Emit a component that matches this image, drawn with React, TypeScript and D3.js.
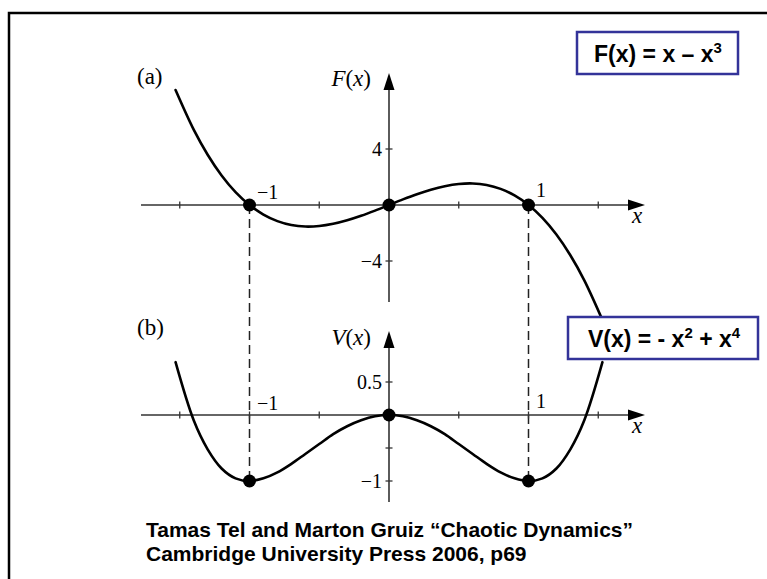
import React from "react";
import * as d3 from "d3";

// Sampled curve values along x
const xs = [-1.53, -1.4, -1.3, -1.2, -1.1, -1.0, -0.9, -0.8, -0.7, -0.6, -0.5, -0.4, -0.3, -0.2, -0.1, 0,
  0.1, 0.2, 0.3, 0.4, 0.5, 0.6, 0.7, 0.8, 0.9, 1.0, 1.1, 1.2, 1.3, 1.4, 1.53];
const forceVals = [8.21, 5.38, 3.59, 2.11, 0.92, 0, -0.68, -1.15, -1.43, -1.54, -1.5, -1.34, -1.09, -0.77, -0.4, 0,
  0.4, 0.77, 1.09, 1.34, 1.5, 1.54, 1.43, 1.15, 0.68, 0, -0.92, -2.11, -3.59, -5.38, -8.21];
const potentialVals = [0.8, -0.08, -0.52, -0.81, -0.96, -1, -0.96, -0.87, -0.74, -0.59, -0.44, -0.29, -0.17, -0.08, -0.02, 0,
  -0.02, -0.08, -0.17, -0.29, -0.44, -0.59, -0.74, -0.87, -0.96, -1, -0.96, -0.81, -0.52, -0.08, 0.8];

// Fixed points marked on each panel
const forcePoints = [[-1, 0], [0, 0], [1, 0]];
const potentialPoints = [[-1, -1], [0, 0], [1, -1]];

// Axis ticks
const xTicks = [-1.5, -1, -0.5, 0.5, 1, 1.5];
const forceTicks = [4, -4];
const forceTickLabels = ["4", "\u22124"];
const potentialTicks = [0.5, -0.5, -1];
const potentialTickLabels = ["0.5", "", "\u22121"];

const W = 767;
const H = 579;
const SERIF = "'Liberation Serif', 'DejaVu Serif', serif";
const SANS = "'Liberation Sans', Arial, sans-serif";
const AXIS = "#333";

const x = d3.scaleLinear().domain([0, 1]).range([389, 528.5]);
const yF = d3.scaleLinear().domain([0, 4]).range([205, 149]);
const yV = d3.scaleLinear().domain([0, -1]).range([415, 481]);

function Arrow({ tx, ty, dir }: { tx: number; ty: number; dir: "right" | "up" }) {
  const len = 17, hw = 5.5;
  const pts = dir === "right"
    ? [[tx, ty], [tx - len, ty - hw], [tx - len, ty + hw]]
    : [[tx, ty], [tx - hw, ty + len], [tx + hw, ty + len]];
  return <polygon points={pts.map(p => p.join(",")).join(" ")} fill="#000" />;
}

function Panel({ y, vals, points, yTicks, yTickLabels, yTop, yBottom, label, yLabel, oneLabelDy }: any) {
  const x0 = x(0);
  const y0 = y(0);
  const line = d3.line<number>().x((_, i) => x(xs[i])).y(d => y(d)).curve(d3.curveCatmullRom.alpha(0.5));
  return (
    <g>
      {/* x axis */}
      <line x1={141} x2={630} y1={y0} y2={y0} stroke={AXIS} strokeWidth={1.6} />
      <Arrow tx={645} ty={y0} dir="right" />
      {xTicks.map(t => (
        <line key={t} x1={x(t)} x2={x(t)} y1={y0 - 3.5} y2={y0 + 3.5} stroke={AXIS} strokeWidth={1.3} />
      ))}
      {/* y axis */}
      <line x1={x0} x2={x0} y1={yTop + 14} y2={yBottom} stroke={AXIS} strokeWidth={1.6} />
      <Arrow tx={x0} ty={yTop} dir="up" />
      {yTicks.map((t: number, i: number) => (
        <g key={t}>
          <line x1={x0 - 3.5} x2={x0 + 3.5} y1={y(t)} y2={y(t)} stroke={AXIS} strokeWidth={1.3} />
          <text x={x0 - 7} y={y(t) + 7} textAnchor="end" fontFamily={SERIF} fontSize={20}>{yTickLabels[i]}</text>
        </g>
      ))}
      <text x={257} y={y0 - 6 + oneLabelDy} fontFamily={SERIF} fontSize={20}>{"\u22121"}</text>
      <text x={536} y={y0 - 8 + oneLabelDy} fontFamily={SERIF} fontSize={20}>1</text>
      <text x={637} y={y0 + 18} textAnchor="middle" fontFamily={SERIF} fontSize={23} fontStyle="italic">x</text>
      <text x={137} y={label.y} fontFamily={SERIF} fontSize={23}>{label.text}</text>
      <text x={371} y={yLabel.y} textAnchor="end" fontFamily={SERIF} fontSize={23}>
        <tspan fontStyle="italic">{yLabel.name}</tspan>(<tspan fontStyle="italic">x</tspan>)
      </text>
      <path d={line(vals) || ""} fill="none" stroke="#000" strokeWidth={2.6} strokeLinecap="round" />
      {points.map((p: number[], i: number) => (
        <circle key={i} cx={x(p[0])} cy={y(p[1])} r={6.5} fill="#000" />
      ))}
    </g>
  );
}

export default function App() {
  return (
    <svg width={W} height={H} style={{ position: "absolute", left: 0, top: 0, background: "#fff" }}>
      <rect x={0} y={0} width={W} height={H} fill="#fff" />
      {/* frame */}
      <rect x={9} y={13} width={W + 20} height={H + 20} fill="none" stroke="#000" strokeWidth={2.5} />

      {/* dashed guides joining the fixed points */}
      {[-1, 1].map(v => (
        <line key={v} x1={x(v)} x2={x(v)} y1={yF(0)} y2={yV(-1)} stroke="#222" strokeWidth={1.5} strokeDasharray="9,5" />
      ))}

      <Panel y={yF} vals={forceVals} points={forcePoints} yTicks={forceTicks} yTickLabels={forceTickLabels}
        yTop={73} yBottom={302} label={{ text: "(a)", y: 84 }} yLabel={{ name: "F", y: 86 }} oneLabelDy={0} />
      <Panel y={yV} vals={potentialVals} points={potentialPoints} yTicks={potentialTicks} yTickLabels={potentialTickLabels}
        yTop={331} yBottom={502} label={{ text: "(b)", y: 335 }} yLabel={{ name: "V", y: 345 }} oneLabelDy={1} />

      {/* formula boxes */}
      <rect x={577} y={32} width={161} height={42} fill="#fff" stroke="#333399" strokeWidth={2.5} />
      <text x={658} y={62} textAnchor="middle" fontFamily={SANS} fontWeight="bold" fontSize={23}>
        F(x) = x – x<tspan fontSize={15} dy={-9}>3</tspan>
      </text>
      <rect x={568} y={317} width={190} height={42} fill="#fff" stroke="#333399" strokeWidth={2.5} />
      <text x={664} y={347} textAnchor="middle" fontFamily={SANS} fontWeight="bold" fontSize={23}>
        V(x) = - x<tspan fontSize={15} dy={-9}>2</tspan><tspan dy={9}> + x</tspan><tspan fontSize={15} dy={-9}>4</tspan>
      </text>

      {/* source */}
      <text fontFamily={SANS} fontWeight="bold" fontSize={21}>
        <tspan x={146} y={537}>Tamas Tel and Marton Gruiz “Chaotic Dynamics”</tspan>
        <tspan x={146} y={561}>Cambridge University Press 2006, p69</tspan>
      </text>
    </svg>
  );
}
